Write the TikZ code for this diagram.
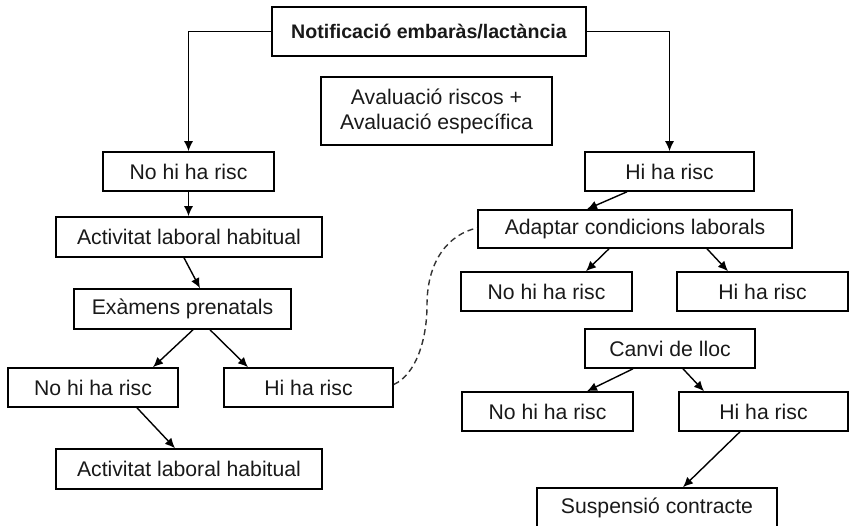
\documentclass[tikz,border=0pt]{standalone}
\usepackage{fontspec}
\setmainfont{Liberation Sans}
\usetikzlibrary{arrows.meta}
\tikzset{
  box/.style={draw, line width=1.6pt, inner sep=0pt, minimum height=39pt, align=center,
    font=\fontsize{21.2}{25}\selectfont, text=black!90},
  arr/.style={line width=1.4pt, -{Latex[length=10pt,width=9pt]}},
  dashcon/.style={line width=1.4pt, dash pattern=on 6pt off 4pt, black!80}
}
\begin{document}
\begin{tikzpicture}[x=1pt,y=-1pt]
\useasboundingbox (0,0) rectangle (849,526);
\node[box, minimum width=314pt, minimum height=49pt, font=\fontsize{19.6}{24}\selectfont\bfseries] (top) at (429,31.5) {Notificació embaràs/lactància};
\node[box, minimum width=231pt, minimum height=68pt] (aval) at (436.5,111) {Avaluació riscos +\\Avaluació específica};
\node[box, minimum width=171pt] (nL) at (188.5,171.5) {No hi ha risc};
\node[box, minimum width=266pt, minimum height=40pt] (act1) at (189,237) {Activitat laboral habitual};
\node[box, minimum width=217pt, minimum height=40pt] (exa) at (182.5,309) {Exàmens prenatals};
\node[box, minimum width=170pt] (nL2) at (93,387.5) {No hi ha risc};
\node[box, minimum width=169pt] (hL2) at (308.5,387.5) {Hi ha risc};
\node[box, minimum width=266pt, minimum height=40pt] (act2) at (189,469) {Activitat laboral habitual};
\node[box, minimum width=169pt] (hR) at (669.5,171.5) {Hi ha risc};
\node[box, minimum width=314pt, minimum height=38pt] (adapt) at (635,229) {Adaptar condicions laborals};
\node[box, minimum width=171pt] (nR) at (546.5,291.5) {No hi ha risc};
\node[box, minimum width=171pt] (hR2) at (762.5,291.5) {Hi ha risc};
\node[box, minimum width=170pt] (canvi) at (670,348.5) {Canvi de lloc};
\node[box, minimum width=171pt] (nR3) at (547.5,411.5) {No hi ha risc};
\node[box, minimum width=169pt] (hR3) at (763.5,411.5) {Hi ha risc};
\node[box, minimum width=240pt] (susp) at (657,507.5) {Suspensió contracte};

\draw[arr] (top.west) -| (nL.north);
\draw[arr] (top.east) -| (hR.north);
\draw[arr] (nL.south) -- (nL.south |- act1.north);
\draw[arr] ([xshift=-5pt]act1.south) -- ([xshift=17.5pt]exa.north);
\draw[arr] ([xshift=10.5pt]exa.south) -- ([xshift=60pt]nL2.north);
\draw[arr] ([xshift=27.5pt]exa.south) -- ([xshift=-60.5pt]hL2.north);
\draw[arr] ([xshift=44pt]nL2.south) -- ([xshift=-14pt]act2.north);
\draw[arr] ([xshift=-42.5pt]hR.south) -- ([xshift=-48pt]adapt.north);
\draw[arr] ([xshift=-26pt]adapt.south) -- ([xshift=39.5pt]nR.north);
\draw[arr] ([xshift=72pt]adapt.south) -- ([xshift=-34.5pt]hR2.north);
\draw[arr] ([xshift=-37pt]canvi.south) -- ([xshift=39.5pt]nR3.north);
\draw[arr] ([xshift=13pt]canvi.south) -- ([xshift=-59.5pt]hR3.north);
\draw[arr] ([xshift=-23.5pt]hR3.south) -- ([xshift=26pt]susp.north);
\draw[dashcon] ([yshift=3pt]hL2.east) .. controls +(22,-10) and +(0,35) .. (427,305)
  .. controls +(0,-45) and +(-28,6) .. ([yshift=1pt]adapt.west);
\end{tikzpicture}
\end{document}
